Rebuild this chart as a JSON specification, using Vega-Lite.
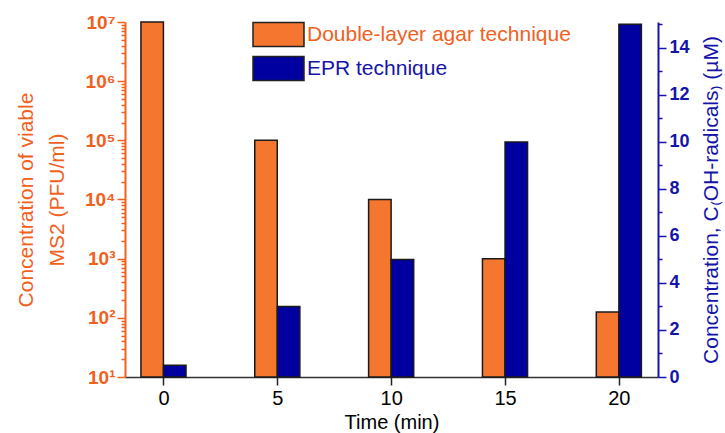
{
  "$schema": "https://vega.github.io/schema/vega-lite/v6.json",
  "autosize": "none",
  "width": 533,
  "height": 355,
  "padding": {"left": 125, "top": 22, "right": 67, "bottom": 56},
  "background": "white",
  "config": {
    "font": "Liberation Sans",
    "view": {"stroke": null},
    "axis": {"grid": false}
  },
  "data": {
    "values": [
      {"time": 0, "series": "Double-layer agar technique", "value": 10000000},
      {"time": 5, "series": "Double-layer agar technique", "value": 100000},
      {"time": 10, "series": "Double-layer agar technique", "value": 10000},
      {"time": 15, "series": "Double-layer agar technique", "value": 1000},
      {"time": 20, "series": "Double-layer agar technique", "value": 126},
      {"time": 0, "series": "EPR technique", "value": 0.5},
      {"time": 5, "series": "EPR technique", "value": 3.0},
      {"time": 10, "series": "EPR technique", "value": 5.0},
      {"time": 15, "series": "EPR technique", "value": 10.0},
      {"time": 20, "series": "EPR technique", "value": 15.0}
    ]
  },
  "encoding": {
    "x": {
      "field": "time",
      "type": "quantitative",
      "scale": {"domain": [-1.47, 21.5], "nice": false, "zero": false},
      "axis": {
        "values": [0, 5, 10, 15, 20],
        "title": "Time (min)",
        "titleFontSize": 20,
        "titleFontWeight": "normal",
        "titleColor": "black",
        "titlePadding": 4,
        "labelFontSize": 20,
        "labelColor": "black",
        "labelPadding": 3,
        "tickSize": 8,
        "tickColor": "#222",
        "tickWidth": 1.5,
        "domainColor": "#333",
        "domainWidth": 1.5
      }
    },
    "color": {
      "field": "series",
      "type": "nominal",
      "scale": {
        "domain": ["Double-layer agar technique", "EPR technique"],
        "range": ["#F5762F", "#0000A0"]
      },
      "legend": {
        "orient": "none",
        "legendX": 140,
        "legendY": -1,
        "title": null,
        "padding": 0,
        "symbolType": "M-2,-0.94H2V0.94H-2Z",
        "symbolSize": 650,
        "symbolStrokeColor": "#222",
        "symbolStrokeWidth": 1.5,
        "symbolOpacity": 1,
        "labelFontSize": 21,
        "labelOffset": 15,
        "rowPadding": 3,
        "labelLimit": 400,
        "encode": {
          "labels": {
            "update": {
              "fill": {"signal": "datum.value == 'EPR technique' ? '#1414AA' : '#F2601E'"}
            }
          }
        }
      }
    }
  },
  "layer": [
    {
      "transform": [{"filter": "datum.series == 'Double-layer agar technique'"}],
      "mark": {"type": "bar", "width": 22.5, "xOffset": -11.3, "stroke": "#1a1a1a", "strokeWidth": 1.5, "opacity": 1},
      "encoding": {
        "y": {
          "field": "value",
          "type": "quantitative",
          "scale": {"type": "log", "domain": [10, 10000000], "nice": false},
          "axis": {
            "orient": "left",
            "values": [10,20,30,40,50,60,70,80,90,100,200,300,400,500,600,700,800,900,1000,2000,3000,4000,5000,6000,7000,8000,9000,10000,20000,30000,40000,50000,60000,70000,80000,90000,100000,200000,300000,400000,500000,600000,700000,800000,900000,1000000,2000000,3000000,4000000,5000000,6000000,7000000,8000000,9000000,10000000],
            "labelExpr": "indexof([10,100,1000,10000,100000,1000000,10000000], datum.value) >= 0 ? '10' + ['','¹','²','³','⁴','⁵','⁶','⁷'][round(log(datum.value)/LN10)] : ''",
            "tickSize": {"condition": {"test": "indexof([10,100,1000,10000,100000,1000000,10000000], datum.value) >= 0", "value": 8}, "value": 4},
            "tickColor": "#F2601E",
            "tickWidth": 1.5,
            "domainColor": "#F2601E",
            "domainWidth": 2,
            "labelColor": "#F2601E",
            "labelFontSize": 19,
            "labelFontWeight": "bold",
            "labelPadding": 2,
            "labelFlush": false,
            "labelOverlap": false,
            "title": ["Concentration of viable", "MS2 (PFU/ml)"],
            "titleColor": "#F2601E",
            "titleFontSize": 21,
            "titleFontWeight": "normal",
            "titleLineHeight": 31,
            "titlePadding": 17
          }
        },
        "y2": {"datum": 10}
      }
    },
    {
      "transform": [{"filter": "datum.series == 'EPR technique'"}],
      "mark": {"type": "bar", "width": 22.5, "xOffset": 11.3, "stroke": "#1a1a1a", "strokeWidth": 1.5, "opacity": 1},
      "encoding": {
        "y": {
          "field": "value",
          "type": "quantitative",
          "scale": {"domain": [0, 15.1], "nice": false},
          "axis": {
            "orient": "right",
            "values": [0,1,2,3,4,5,6,7,8,9,10,11,12,13,14,15],
            "labelExpr": "datum.value % 2 == 0 ? datum.label : ''",
            "tickSize": {"condition": {"test": "datum.value % 2 == 0", "value": 8}, "value": 4},
            "tickColor": "#1414AA",
            "tickWidth": 1.5,
            "domainColor": "#1414AA",
            "domainWidth": 2,
            "labelColor": "#1414AA",
            "labelFontSize": 18,
            "labelFontWeight": "bold",
            "labelPadding": 3,
            "labelFlush": false,
            "labelOverlap": false,
            "title": "Concentration, C₍OH-radicals₎ (µM)",
            "titleColor": "#1414AA",
            "titleFontSize": 21,
            "titleFontWeight": "normal",
            "titleAngle": 270,
            "titlePadding": 32
          }
        }
      }
    }
  ],
  "resolve": {"scale": {"y": "independent"}}
}
